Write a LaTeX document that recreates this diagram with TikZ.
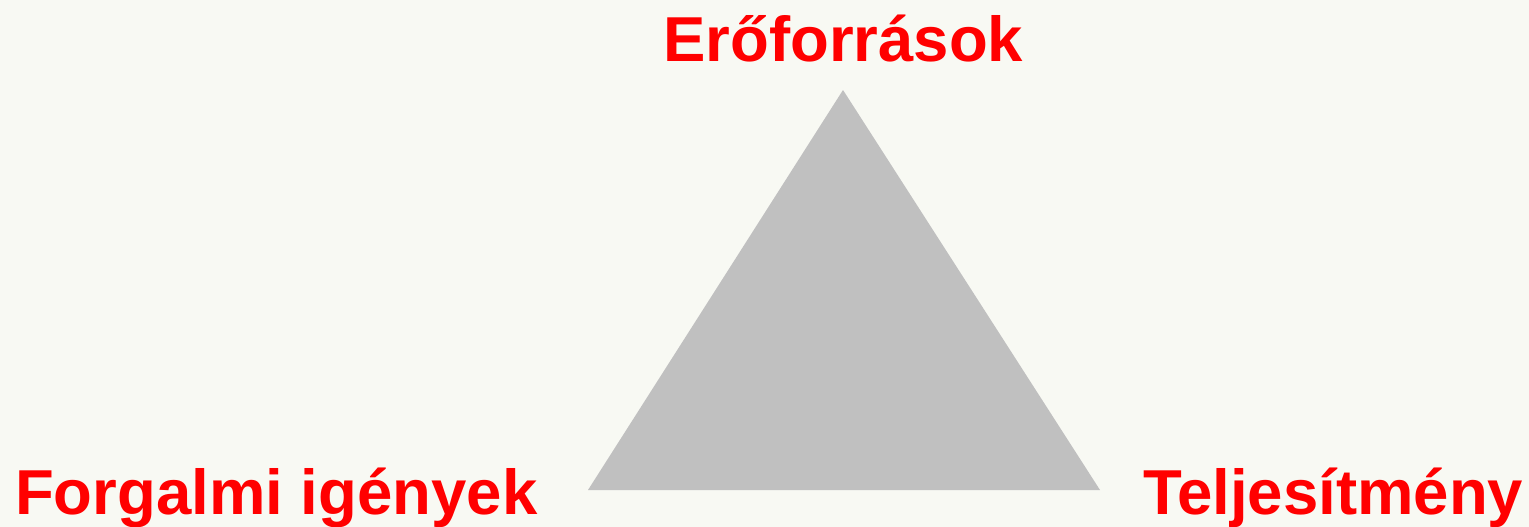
\documentclass[tikz,border=0pt]{standalone}
\usepackage{fontspec}
\setmainfont{Liberation Sans}
\definecolor{bgpaper}{HTML}{F8F9F3}
\definecolor{tri}{HTML}{C0C0C0}
\definecolor{lbl}{HTML}{FF0000}
\begin{document}
\begin{tikzpicture}[x=1pt,y=-1pt,
  corner/.style={text=lbl,font=\fontsize{63.5}{63.5}\selectfont\bfseries,inner sep=0pt,anchor=base west}]
  \fill[bgpaper] (0,0) rectangle (1529,527);
  \useasboundingbox (0,0) rectangle (1529,527);
  % the triangle
  \coordinate (top) at (843,90);
  \coordinate (bl) at (588,490);
  \coordinate (br) at (1100,490);
  \fill[tri] (top) -- (bl) -- (br) -- cycle;
  % vertex labels
  \node[corner] (res) at (663,62) {Erőforrások};
  \node[corner] (dem) at (15,514) {Forgalmi igények};
  \node[corner] (perf) at (1143,514) {Teljesítmény};
\end{tikzpicture}
\end{document}
